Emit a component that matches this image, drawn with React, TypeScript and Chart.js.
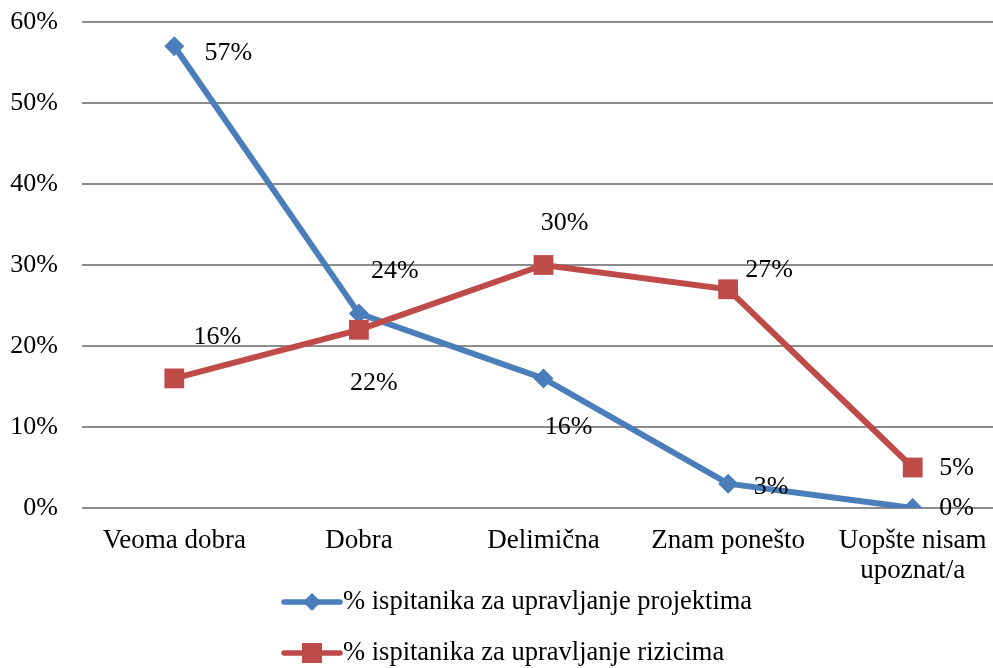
import React, { useEffect, useRef } from 'react';
import { Chart, registerables } from 'chart.js';

Chart.register(...registerables);

const categories: (string | string[])[] = ['Veoma dobra', 'Dobra', 'Delimična', 'Znam ponešto', ['Uopšte nisam', 'upoznat/a']];
const projectLabel = '% ispitanika za upravljanje projektima';
const riskLabel = '% ispitanika za upravljanje rizicima';
const projectValues = [57, 24, 16, 3, 0];
const riskValues = [16, 22, 30, 27, 5];
const yMin = 0;
const yMax = 60;
const yStep = 10;

// label placement (offset of label centre from its point), one per point
const projectLabelOffsets = [[54, 7], [36, -42], [25, 49], [43, 3], [44, 0]];
const riskLabelOffsets = [[43, -41], [15, 53], [21, -42], [41, -19], [44, 1]];

const BLUE = '#4A7EBB';
const RED = '#BE4B48';
const FONT = "'Liberation Serif', 'Times New Roman', serif";

const valueLabelPlugin = {
  id: 'valueLabels',
  afterDatasetsDraw(chart: any) {
    const ctx = chart.ctx;
    const offsets = [projectLabelOffsets, riskLabelOffsets];
    ctx.save();
    ctx.font = `26px ${FONT}`;
    ctx.fillStyle = '#000';
    ctx.textAlign = 'center';
    ctx.textBaseline = 'middle';
    chart.data.datasets.forEach((ds: any, i: number) => {
      const meta = chart.getDatasetMeta(i);
      meta.data.forEach((pt: any, j: number) => {
        const off = offsets[i][j];
        ctx.fillText(ds.data[j] + '%', pt.x + off[0], pt.y + off[1]);
      });
    });
    ctx.restore();
  },
};

const legendPlugin = {
  id: 'stackedLegend',
  afterDraw(chart: any) {
    const ctx = chart.ctx;
    const left = 284;
    const lineLen = 56;
    const rows = [602, 653];
    ctx.save();
    chart.data.datasets.forEach((ds: any, i: number) => {
      const y = rows[i];
      ctx.strokeStyle = ds.borderColor;
      ctx.lineWidth = 5.5;
      ctx.lineCap = 'round';
      ctx.beginPath();
      ctx.moveTo(left, y);
      ctx.lineTo(left + lineLen, y);
      ctx.stroke();
      const cx = left + lineLen / 2;
      ctx.fillStyle = ds.borderColor;
      ctx.beginPath();
      if (ds.pointStyle === 'rectRot') {
        const r = 9;
        ctx.moveTo(cx, y - r);
        ctx.lineTo(cx + r, y);
        ctx.lineTo(cx, y + r);
        ctx.lineTo(cx - r, y);
        ctx.closePath();
      } else {
        ctx.rect(cx - 10, y - 10, 20, 20);
      }
      ctx.fill();
      ctx.fillStyle = '#000';
      ctx.font = `26.5px ${FONT}`;
      ctx.textAlign = 'left';
      ctx.textBaseline = 'middle';
      ctx.fillText(ds.label, left + lineLen + 3, y);
    });
    ctx.restore();
  },
};

export default function App() {
  const ref = useRef<HTMLCanvasElement>(null);
  useEffect(() => {
    if (!ref.current) return;
    const chart = new Chart(ref.current, {
      type: 'line',
      data: {
        labels: categories as any,
        datasets: [
          {
            label: projectLabel,
            data: projectValues,
            borderColor: BLUE,
            backgroundColor: BLUE,
            borderWidth: 6,
            pointStyle: 'rectRot',
            pointRadius: 10,
            pointHoverRadius: 10,
            pointBorderWidth: 0,
            tension: 0,
            order: 1,
          },
          {
            label: riskLabel,
            data: riskValues,
            borderColor: RED,
            backgroundColor: RED,
            borderWidth: 6,
            pointStyle: 'rect',
            pointRadius: 14,
            pointHoverRadius: 14,
            pointBorderWidth: 0,
            tension: 0,
            order: 0,
          },
        ],
      },
      options: {
        animation: false,
        responsive: false,
        devicePixelRatio: 1,
        layout: { autoPadding: false, padding: { top: 22, bottom: 0, left: 0, right: 0 } },
        plugins: { legend: { display: false }, tooltip: { enabled: false } },
        scales: {
          x: {
            offset: true,
            grid: { display: false, drawTicks: false },
            border: { display: false },
            ticks: {
              color: '#000',
              font: { family: FONT, size: 27, lineHeight: 30 / 27 },
              padding: 18,
              autoSkip: false,
              maxRotation: 0,
              minRotation: 0,
            },
            afterFit: (s: any) => { s.height = 160; },
          },
          y: {
            min: yMin,
            max: yMax,
            grid: { color: '#8c8c8c', lineWidth: 2, drawTicks: true, tickLength: 24, tickColor: 'rgba(0,0,0,0)' },
            border: { display: false },
            ticks: {
              stepSize: yStep,
              color: '#000',
              font: { family: FONT, size: 26 },
              padding: 0,
              callback: (v: any) => v + '%',
            },
            afterFit: (s: any) => { s.width = 82; },
          },
        },
      },
      plugins: [valueLabelPlugin, legendPlugin],
    });
    return () => chart.destroy();
  }, []);
  return (
    <div style={{ position: 'fixed', left: 0, top: 0, width: 993, height: 668, overflow: 'hidden', background: '#fff' }}>
      <canvas ref={ref} width={1005} height={668} style={{ display: 'block' }} />
    </div>
  );
}
